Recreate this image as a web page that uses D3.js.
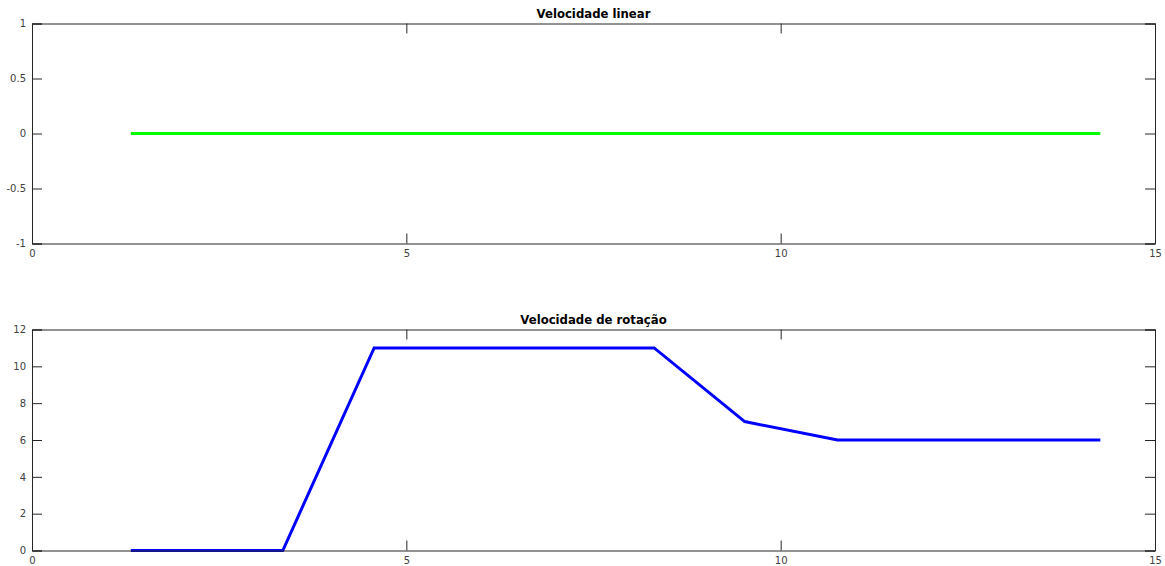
<!DOCTYPE html>
<html>
<head>
<meta charset="utf-8">
<script src="https://cdn.jsdelivr.net/npm/d3@7"></script>
<style>
  html, body { margin: 0; padding: 0; background: #fff; }
  svg { display: block; }
  text { font-family: "DejaVu Sans", sans-serif; }
</style>
</head>
<body>
<svg id="chart" width="1165" height="566"></svg>
<script>
// Time stamps (s) of each recorded command
const timeLinear = [1.32, 14.27];
const linearSpeed = [0, 0];

const timeRotation = [1.32, 3.35, 4.57, 8.31, 9.52, 10.76, 14.27];
const rotationSpeed = [0, 0, 11, 11, 7, 6, 6];

const xTicks = [0, 5, 10, 15];
const yTicksLinear = [-1, -0.5, 0, 0.5, 1];
const yTicksRotation = [0, 2, 4, 6, 8, 10, 12];

const titles = ["Velocidade linear", "Velocidade de rotação"];

const svg = d3.select("#chart");
const axisColor = "#262626";
const labelColor = "#404040";
const left = 32, right = 1155;

function panel(top, bottom, xs, ys, yDomain, yTicks, title, color) {
  const x = d3.scaleLinear().domain([0, 15]).range([left, right]);
  const y = d3.scaleLinear().domain(yDomain).range([bottom, top]);
  const g = svg.append("g");

  // data line
  const pts = xs.map((t, i) => [t, ys[i]]);
  g.append("path")
    .datum(pts)
    .attr("fill", "none")
    .attr("stroke", color)
    .attr("stroke-width", 3)
    .attr("stroke-linejoin", "miter")
    .attr("d", d3.line().x(d => x(d[0])).y(d => y(d[1])));

  const tickLen = 10;
  const fmt = d => String(d);

  // bottom and left axes with inward ticks
  const bx = g.append("g").attr("transform", `translate(0,${bottom})`)
    .call(d3.axisBottom(x).tickValues(xTicks).tickSize(-tickLen).tickPadding(6).tickFormat(fmt));
  const lx = g.append("g").attr("transform", `translate(${left},0)`)
    .call(d3.axisLeft(y).tickValues(yTicks).tickSize(-tickLen).tickPadding(6).tickFormat(fmt));
  // top and right mirrored ticks, no labels
  const tx = g.append("g").attr("transform", `translate(0,${top})`)
    .call(d3.axisTop(x).tickValues(xTicks).tickSize(-tickLen).tickFormat(""));
  const rx = g.append("g").attr("transform", `translate(${right},0)`)
    .call(d3.axisRight(y).tickValues(yTicks).tickSize(-tickLen).tickFormat(""));

  [bx, lx, tx, rx].forEach(a => {
    a.select(".domain").attr("stroke", axisColor).attr("stroke-width", 1);
    a.selectAll(".tick line").attr("stroke", axisColor).attr("stroke-width", 1);
    a.selectAll(".tick text").attr("fill", labelColor)
      .style("font-family", "DejaVu Sans, sans-serif").style("font-size", "10px");
  });

  g.append("text")
    .attr("x", (left + right) / 2)
    .attr("y", top - 6)
    .attr("text-anchor", "middle")
    .attr("font-weight", "bold")
    .attr("font-size", "11.7px")
    .attr("fill", "#000")
    .text(title);
}

panel(23.5, 243.5, timeLinear, linearSpeed, [-1, 1], yTicksLinear, titles[0], "#00ff00");
panel(329.5, 550.5, timeRotation, rotationSpeed, [0, 12], yTicksRotation, titles[1], "#0000ff");
</script>
</body>
</html>
